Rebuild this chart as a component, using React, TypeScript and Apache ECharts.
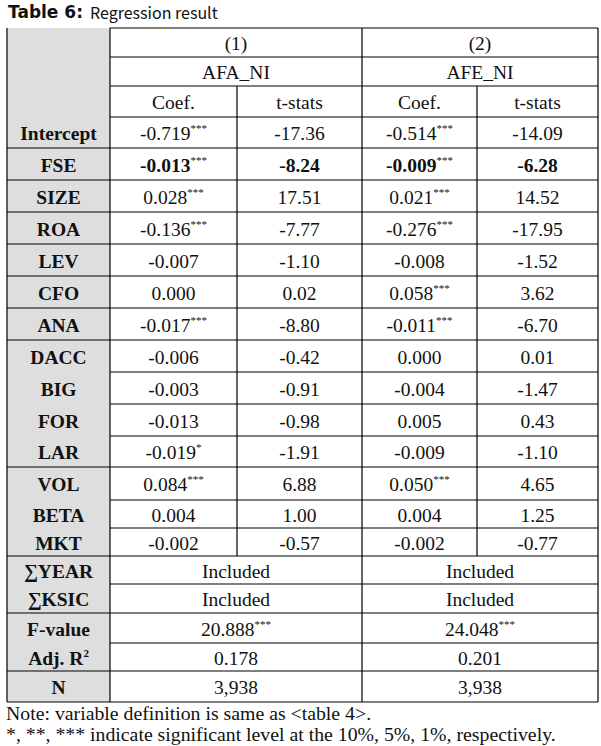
import React, { useEffect, useRef } from "react";
import * as echarts from "echarts";

// ---------- data ----------
const title = "Table 6:";
const subtitle = "Regression result";
const modelHeads = ["(1)", "(2)"];
const depVars = ["AFA_NI", "AFE_NI"];
const statHeads = ["Coef.", "t-stats"];

const variables = ["Intercept", "FSE", "SIZE", "ROA", "LEV", "CFO", "ANA", "DACC", "BIG", "FOR", "LAR", "VOL", "BETA", "MKT"];
const coef1 = [-0.719, -0.013, 0.028, -0.136, -0.007, 0.0, -0.017, -0.006, -0.003, -0.013, -0.019, 0.084, 0.004, -0.002];
const sig1 = ["***", "***", "***", "***", "", "", "***", "", "", "", "*", "***", "", ""];
const tstat1 = [-17.36, -8.24, 17.51, -7.77, -1.1, 0.02, -8.8, -0.42, -0.91, -0.98, -1.91, 6.88, 1.0, -0.57];
const coef2 = [-0.514, -0.009, 0.021, -0.276, -0.008, 0.058, -0.011, 0.0, -0.004, 0.005, -0.009, 0.05, 0.004, -0.002];
const sig2 = ["***", "***", "***", "***", "", "***", "***", "", "", "", "", "***", "", ""];
const tstat2 = [-14.09, -6.28, 14.52, -17.95, -1.52, 3.62, -6.7, 0.01, -1.47, 0.43, -1.1, 4.65, 1.25, -0.77];
const boldVariables = ["FSE"];

const summaryLabels = ["∑YEAR", "∑KSIC", "F-value", "Adj. R", "N"];
const summary1 = ["Included", "Included", "20.888", "0.178", "3,938"];
const summarySig1 = ["", "", "***", "", ""];
const summary2 = ["Included", "Included", "24.048", "0.201", "3,938"];
const summarySig2 = ["", "", "***", "", ""];

const notes = [
  "Note: variable definition is same as <table 4>.",
  "*, **, *** indicate significant level at the 10%, 5%, 1%, respectively.",
];

// ---------- layout ----------
const colX = [7, 110, 237, 362, 477, 598];
const rowEdges = [28, 57, 86, 117, 148, 180, 212, 244, 276, 308, 340, 372, 404, 436, 467, 500, 528, 556, 584, 613, 643, 671, 702];
const fullEdgeIdx = [4, 5, 6, 7, 8, 9, 10, 14, 17, 19, 21, 22];
const SERIF = "Liberation Serif";
const FS = 19.5;
const TXT = "#111111";

function fmt(v: number, d: number) {
  return v.toFixed(d);
}

function cellText(x: number, y: number, main: string, sup: string, bold: boolean) {
  const text = sup ? `{n|${main}}{s|${sup}}` : `{n|${main}}`;
  return {
    type: "text",
    x,
    y,
    silent: true,
    style: {
      text,
      align: "center",
      verticalAlign: "middle",
      fontFamily: SERIF,
      rich: {
        n: { fontFamily: SERIF, fontSize: FS, fontWeight: bold ? "bold" : "normal", fill: TXT, lineHeight: 22 },
        s: { fontFamily: SERIF, fontSize: 11, fill: TXT, verticalAlign: "top", lineHeight: 12 },
      },
    },
  };
}

function buildGraphics() {
  const g: any[] = [];
  const L = colX[0], R = colX[5], G = colX[1];
  const top = rowEdges[0], bot = rowEdges[rowEdges.length - 1];
  g.push({ type: "rect", shape: { x: L, y: top, width: G - L, height: bot - top }, style: { fill: "#dedede" }, silent: true });

  const line = (x1: number, y1: number, x2: number, y2: number) =>
    g.push({ type: "line", shape: { x1, y1, x2, y2 }, style: { stroke: "#000", lineWidth: 1.2 }, silent: true });

  rowEdges.forEach((y, i) => {
    const full = fullEdgeIdx.includes(i);
    line(full ? L : G, y, R, y);
  });
  line(L, top, L, bot);
  line(G, top, G, bot);
  line(colX[3], top, colX[3], bot);
  line(R, top, R, bot);
  const innerTop = rowEdges[2];
  const innerBot = rowEdges[3 + variables.length];
  line(colX[2], innerTop, colX[2], innerBot);
  line(colX[4], innerTop, colX[4], innerBot);

  const rc = (r: number) => (rowEdges[r] + rowEdges[r + 1]) / 2 + 1;
  const cc = (c: number) => (colX[c] + colX[c + 1]) / 2;
  const m1 = (colX[1] + colX[3]) / 2;
  const m2 = (colX[3] + colX[5]) / 2;
  const labX = (L + G) / 2;

  // title: bold label + regular caption
  g.push({
    type: "text", x: 8, y: 12, silent: true,
    style: { text: title, verticalAlign: "middle", fontFamily: "DejaVu Sans", fontSize: 17, fontWeight: "bold", fill: "#111" },
  });
  g.push({
    type: "text", x: 90, y: 12, silent: true,
    style: { text: subtitle, verticalAlign: "middle", fontFamily: "Noto Sans CJK KR", fontSize: 16, fill: "#111" },
  });

  g.push(cellText(m1, rc(0), modelHeads[0], "", false));
  g.push(cellText(m2, rc(0), modelHeads[1], "", false));
  g.push(cellText(m1, rc(1), depVars[0], "", false));
  g.push(cellText(m2, rc(1), depVars[1], "", false));
  g.push(cellText(cc(1), rc(2), statHeads[0], "", false));
  g.push(cellText(cc(2), rc(2), statHeads[1], "", false));
  g.push(cellText(cc(3), rc(2), statHeads[0], "", false));
  g.push(cellText(cc(4), rc(2), statHeads[1], "", false));

  variables.forEach((v, i) => {
    const r = 3 + i;
    const y = rc(r);
    const b = boldVariables.includes(v);
    g.push({
      type: "text", x: labX, y, silent: true,
      style: { text: v, align: "center", verticalAlign: "middle", fontFamily: SERIF, fontSize: FS, fontWeight: "bold", fill: TXT },
    });
    g.push(cellText(cc(1), y, fmt(coef1[i], 3), sig1[i], b));
    g.push(cellText(cc(2), y, fmt(tstat1[i], 2), "", b));
    g.push(cellText(cc(3), y, fmt(coef2[i], 3), sig2[i], b));
    g.push(cellText(cc(4), y, fmt(tstat2[i], 2), "", b));
  });

  summaryLabels.forEach((s, i) => {
    const r = 3 + variables.length + i;
    const y = rc(r);
    const isR2 = s === "Adj. R";
    g.push({
      type: "text", x: labX, y, silent: true,
      style: {
        text: isR2 ? `{n|${s}}{s|2}` : `{n|${s}}`,
        align: "center", verticalAlign: "middle",
        fontFamily: SERIF,
        rich: {
          n: { fontFamily: SERIF, fontSize: FS, fontWeight: "bold", fill: TXT, lineHeight: 22 },
          s: { fontFamily: SERIF, fontSize: 11, fontWeight: "bold", fill: TXT, verticalAlign: "top", lineHeight: 12 },
        },
      },
    });
    g.push(cellText(m1, y, summary1[i], summarySig1[i], false));
    g.push(cellText(m2, y, summary2[i], summarySig2[i], false));
  });

  notes.forEach((n, i) => {
    g.push({
      type: "text", x: 6, y: 713 + i * 21, silent: true,
      style: { text: n, verticalAlign: "middle", fontFamily: SERIF, fontSize: 19.8, fill: TXT },
    });
  });
  return g;
}

export default function App() {
  const ref = useRef<HTMLDivElement>(null);
  useEffect(() => {
    if (!ref.current) return;
    const chart = echarts.init(ref.current, undefined, { renderer: "svg" });
    chart.setOption({
      animation: false,
      backgroundColor: "#ffffff",
      graphic: { elements: buildGraphics() },
    });
    return () => chart.dispose();
  }, []);
  return <div ref={ref} style={{ position: "fixed", left: 0, top: 0, width: 601, height: 746 }} />;
}
